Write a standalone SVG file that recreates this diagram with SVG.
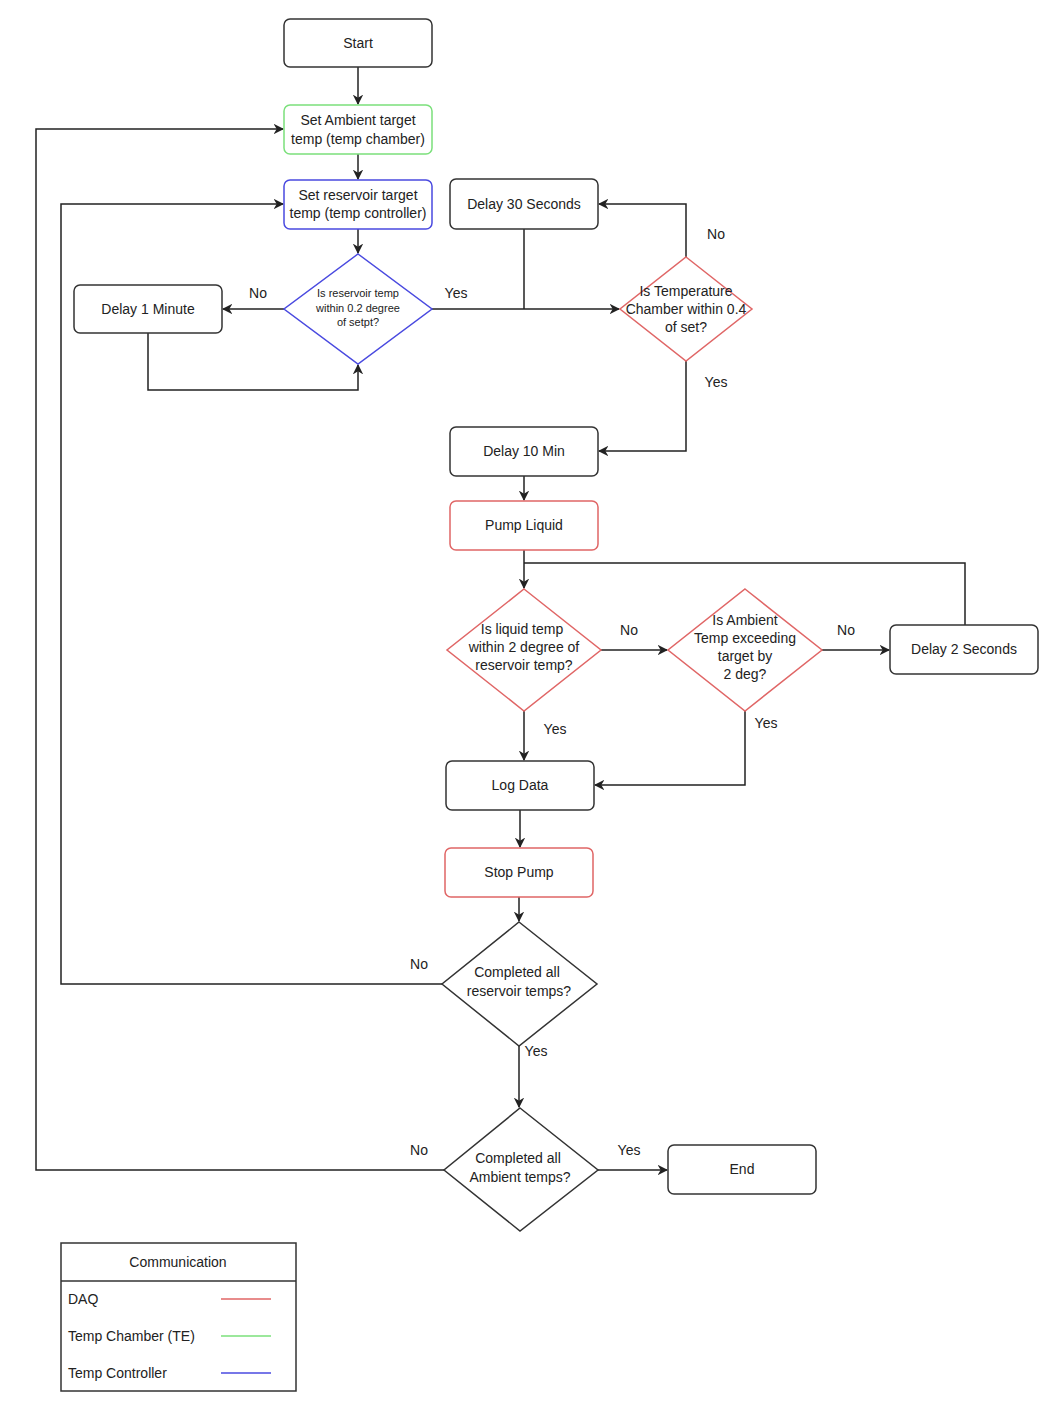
<svg xmlns="http://www.w3.org/2000/svg" width="1052" height="1404" viewBox="0 0 1052 1404">
<style>
text{font-family:"Liberation Sans",Arial,sans-serif;font-size:14px;fill:#222;text-anchor:middle;dominant-baseline:central}
.n rect,.n polygon{fill:#fff;stroke:#333;stroke-width:1.5}
.r rect,.r polygon{stroke:#e06666}
.g rect{stroke:#7be07b}
.b rect,.b polygon{stroke:#4a4ae0}
.c path{fill:none;stroke:#222;stroke-width:1.5}
.s{font-size:11px}
.lbl{text-anchor:middle}
</style>
<defs><marker id="a" viewBox="0 0 10 10" refX="9" refY="5" markerWidth="7" markerHeight="7" orient="auto"><path d="M0,0L10,5L0,10L3,5z" fill="#222"/></marker></defs>
<rect width="1052" height="1404" fill="#fff"/>
<g class="c">
<path d="M358,67V104" marker-end="url(#a)"/>
<path d="M358,154V179" marker-end="url(#a)"/>
<path d="M358,229V253" marker-end="url(#a)"/>
<path d="M284,309H223" marker-end="url(#a)"/>
<path d="M148,333V390H358V365" marker-end="url(#a)"/>
<path d="M432,309H619" marker-end="url(#a)"/>
<path d="M524,229V309"/>
<path d="M686,257V204H599" marker-end="url(#a)"/>
<path d="M686,361V451H599" marker-end="url(#a)"/>
<path d="M524,476V500" marker-end="url(#a)"/>
<path d="M524,550V588" marker-end="url(#a)"/>
<path d="M965,625V563H524"/>
<path d="M601,650H667" marker-end="url(#a)"/>
<path d="M822,650H889" marker-end="url(#a)"/>
<path d="M524,711V760" marker-end="url(#a)"/>
<path d="M745,711V785H595" marker-end="url(#a)"/>
<path d="M520,810V847" marker-end="url(#a)"/>
<path d="M519,897V921" marker-end="url(#a)"/>
<path d="M442,984H61V204H283" marker-end="url(#a)"/>
<path d="M519,1046V1107" marker-end="url(#a)"/>
<path d="M444,1170H36V129H283" marker-end="url(#a)"/>
<path d="M598,1170H667" marker-end="url(#a)"/>
</g>
<g id="labels">
<text x="258" y="293">No</text><text x="456" y="293">Yes</text>
<text x="716" y="234">No</text><text x="716" y="382">Yes</text>
<text x="629" y="630">No</text><text x="846" y="630">No</text>
<text x="555" y="729">Yes</text><text x="766" y="723">Yes</text>
<text x="419" y="964">No</text><text x="536" y="1051">Yes</text>
<text x="419" y="1150">No</text><text x="629" y="1150">Yes</text>
</g>
<g id="start" class="n"><rect x="284" y="19" width="148" height="48" rx="6"/><text x="358" y="43">Start</text></g>
<g id="ambient" class="n g"><rect x="284" y="105" width="148" height="49" rx="6"/><text x="358" y="120">Set Ambient target</text><text x="358" y="139">temp (temp chamber)</text></g>
<g id="reservoir" class="n b"><rect x="284" y="180" width="148" height="49" rx="6"/><text x="358" y="195">Set reservoir target</text><text x="358" y="213">temp (temp controller)</text></g>
<g id="d1" class="n b"><polygon points="358,254 432,309 358,364 284,309"/><text class="s" x="358" y="293">Is reservoir temp</text><text class="s" x="358" y="308">within 0.2 degree</text><text class="s" x="358" y="322">of setpt?</text></g>
<g id="delay1" class="n"><rect x="74" y="285" width="148" height="48" rx="6"/><text x="148" y="309">Delay 1 Minute</text></g>
<g id="delay30" class="n"><rect x="450" y="179" width="148" height="50" rx="6"/><text x="524" y="204">Delay 30 Seconds</text></g>
<g id="d2" class="n r"><polygon points="686,257 752,309 686,361 620,309"/><text x="686" y="291">Is Temperature</text><text x="686" y="309">Chamber within 0.4</text><text x="686" y="327">of set?</text></g>
<g id="delay10" class="n"><rect x="450" y="427" width="148" height="49" rx="6"/><text x="524" y="451">Delay 10 Min</text></g>
<g id="pump" class="n r"><rect x="450" y="501" width="148" height="49" rx="6"/><text x="524" y="525">Pump Liquid</text></g>
<g id="d3" class="n r"><polygon points="524,589 601,650 524,711 447,650"/><text x="522" y="629">Is liquid temp</text><text x="524" y="647">within 2 degree of</text><text x="524" y="665">reservoir temp?</text></g>
<g id="d4" class="n r"><polygon points="745,589 822,650 745,711 668,650"/><text x="745" y="620">Is Ambient</text><text x="745" y="638">Temp exceeding</text><text x="745" y="656">target by</text><text x="745" y="674">2 deg?</text></g>
<g id="delay2" class="n"><rect x="890" y="625" width="148" height="49" rx="6"/><text x="964" y="649">Delay 2 Seconds</text></g>
<g id="log" class="n"><rect x="446" y="761" width="148" height="49" rx="6"/><text x="520" y="785">Log Data</text></g>
<g id="stop" class="n r"><rect x="445" y="848" width="148" height="49" rx="6"/><text x="519" y="872">Stop Pump</text></g>
<g id="d5" class="n"><polygon points="519,922 597,984 519,1046 442,984"/><text x="517" y="972">Completed all</text><text x="519" y="991">reservoir temps?</text></g>
<g id="d6" class="n"><polygon points="520,1108 598,1170 520,1231 444,1170"/><text x="518" y="1158">Completed all</text><text x="520" y="1177">Ambient temps?</text></g>
<g id="end" class="n"><rect x="668" y="1145" width="148" height="49" rx="6"/><text x="742" y="1169">End</text></g>
<g id="legend">
<rect x="61" y="1243" width="235" height="148" fill="#fff" stroke="#333" stroke-width="1.5"/>
<path d="M61,1281H296" stroke="#333" stroke-width="1.5"/>
<text x="178" y="1262">Communication</text>
<text x="68" y="1299" style="text-anchor:start">DAQ</text>
<text x="68" y="1336" style="text-anchor:start">Temp Chamber (TE)</text>
<text x="68" y="1373" style="text-anchor:start">Temp Controller</text>
<path d="M221,1299H271" stroke="#e06666" stroke-width="1.5"/>
<path d="M221,1336H271" stroke="#7be07b" stroke-width="1.5"/>
<path d="M221,1373H271" stroke="#4a4ae0" stroke-width="1.5"/>
</g>
</svg>
